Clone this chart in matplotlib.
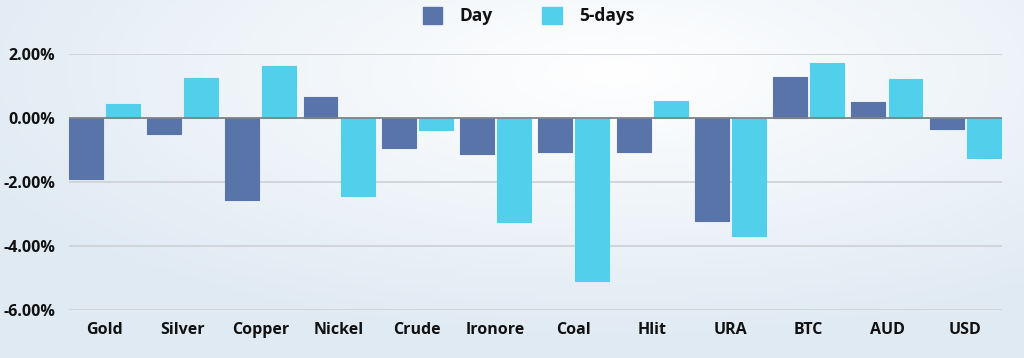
import numpy as np
import matplotlib
matplotlib.use("Agg")
import matplotlib.pyplot as plt
from matplotlib.patches import Patch
from matplotlib.ticker import FuncFormatter

categories = ["Gold", "Silver", "Copper", "Nickel", "Crude", "Ironore",
              "Coal", "Hlit", "URA", "BTC", "AUD", "USD"]
day = [-1.91, -0.50, -2.56, 0.66, -0.94, -1.14, -1.06, -1.06, -3.22, 1.28, 0.50, -0.34]
five_days = [0.44, 1.25, 1.63, -2.44, -0.36, -3.25, -5.09, 0.53, -3.69, 1.72, 1.22, -1.25]
yticks = [2, 0, -2, -4, -6]

plt.rcParams['font.family'] = ['Open Sans', 'DejaVu Sans']
plt.rcParams['axes.unicode_minus'] = False

fig = plt.figure(figsize=(10.24, 3.58), dpi=100)

# background gradient
bg = fig.add_axes([0, 0, 1, 1], zorder=-10)
h, w = 90, 256
yy, xx = np.mgrid[0:h, 0:w]
xx = xx / (w - 1); yy = yy / (h - 1)
d = np.sqrt(((xx - 0.6) * 1.1) ** 2 + ((yy - 0.2) * 1.0) ** 2)
t = np.clip(d / 0.75, 0, 1)
c0 = np.array([1.0, 1.0, 1.0]); c1 = np.array([0.88, 0.92, 0.955])
img = c0[None, None, :] * (1 - t[..., None]) + c1[None, None, :] * t[..., None]
bg.imshow(img, aspect='auto', extent=[0, 1, 0, 1], origin='upper')
bg.axis('off')

ax = fig.add_axes([69 / 1024, 1 - 310 / 358, (1002 - 69) / 1024, (310 - 54) / 358])
ax.set_facecolor('none')

x = np.arange(len(categories))
wbar = 0.434
off = 0.237
c_day = '#5874A8'
c_5 = '#52CFEA'
ax.bar(x - off, day, wbar, color=c_day, edgecolor=c_day, linewidth=0.8,
       joinstyle='round', zorder=3, clip_on=False)
ax.bar(x + off, five_days, wbar, color=c_5, edgecolor=c_5, linewidth=0.8,
       joinstyle='round', zorder=3, clip_on=False)

ax.set_xlim(-0.45, 11.47)
ax.set_ylim(-6, 2)
ax.set_yticks(yticks)
ax.yaxis.set_major_formatter(FuncFormatter(lambda v, p: "%.2f%%" % v))
ax.set_xticks(x)
ax.set_xticklabels(categories)
for s in ax.spines.values():
    s.set_visible(False)
ax.tick_params(axis='both', length=0, labelsize=11.5)
ax.tick_params(axis='y', pad=10)
ax.tick_params(axis='x', pad=9)
for lab in ax.get_xticklabels() + ax.get_yticklabels():
    lab.set_fontweight('bold')
    lab.set_color('#111111')

for v in yticks:
    if v == 0:
        ax.axhline(v, color='#7f8388', linewidth=1.3, zorder=4)
    else:
        ax.axhline(v, color='#cfd3d7', linewidth=1.3, zorder=1)

handles = [Patch(facecolor=c_day, edgecolor=c_day, label='Day'),
           Patch(facecolor=c_5, edgecolor=c_5, label='5-days')]
leg = fig.legend(handles=handles, loc='center', bbox_to_anchor=(0.516, 0.955),
                 ncol=2, frameon=False, handlelength=1.1, handleheight=1.1,
                 columnspacing=2.9, handletextpad=1.0,
                 prop={'weight': 'bold', 'size': 12.5})
for txt in leg.get_texts():
    txt.set_color('#111111')

fig.savefig('out.png', dpi=100)
